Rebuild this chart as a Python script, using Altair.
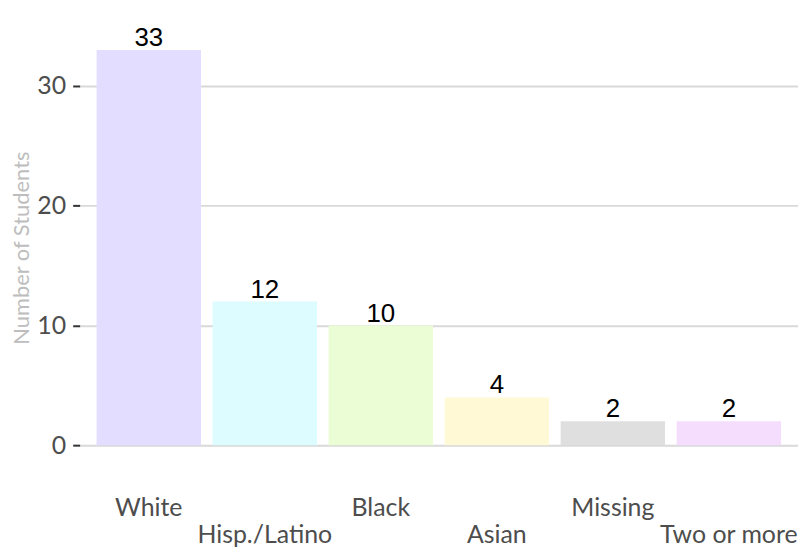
import altair as alt
import pandas as pd

categories = ["White", "Hisp./Latino", "Black", "Asian", "Missing", "Two or more"]
counts = [33, 12, 10, 4, 2, 2]
colors = ["#E3DEFF", "#DCFCFF", "#EAFDD5", "#FFF9D5", "#DFDFDF", "#F5DEFD"]

df = pd.DataFrame({"group": categories, "n": counts})

x = alt.X(
    "group:N",
    sort=categories,
    title=None,
    scale=alt.Scale(paddingInner=0.1, paddingOuter=0.146),
    axis=alt.Axis(
        labelAngle=0,
        ticks=False,
        tickSize=0,
        domain=False,
        labelFont="Lato",
        labelFontSize=25,
        labelColor="#4D4D4D",
        labelBaseline="alphabetic",
        labelPadding=51,
        labelLineHeight=27,
        labelExpr="indexof(['Hisp./Latino','Asian','Two or more'], datum.label) >= 0 ? ['', datum.label] : datum.label",
    ),
)
y = alt.Y(
    "n:Q",
    title="Number of Students",
    scale=alt.Scale(domain=[-1.65, 34.65], nice=False, zero=False),
    axis=alt.Axis(
        values=[0, 10, 20, 30],
        domain=False,
        tickSize=7,
        tickWidth=2,
        tickColor="#333333",
        labelFont="Lato",
        labelFontSize=25,
        labelColor="#4D4D4D",
        labelPadding=7,
        gridColor="#D9D9D9",
        gridWidth=2,
        titleFont="Lato",
        titleFontSize=22,
        titleFontWeight="normal",
        titleColor="#BDBDBD",
        titlePadding=3,
    ),
)

bars = alt.Chart(df).mark_bar().encode(
    x=x,
    y=y,
    y2=alt.datum(0),
    color=alt.Color("group:N", sort=categories,
                    scale=alt.Scale(domain=categories, range=colors), legend=None),
)
labels = alt.Chart(df).mark_text(
    font="Liberation Sans", fontSize=26, color="#000000", baseline="alphabetic", dy=-4
).encode(x=alt.X("group:N", sort=categories), y="n:Q", text="n:Q")

chart = (bars + labels).properties(
    width=722,
    height=437,
    autosize=alt.AutoSizeParams(type="none"),
    padding={"left": 72, "top": 21, "right": 0, "bottom": 84},
).configure_view(stroke=None)

chart.save("out.html", embed_options={"renderer": "svg", "actions": False})
